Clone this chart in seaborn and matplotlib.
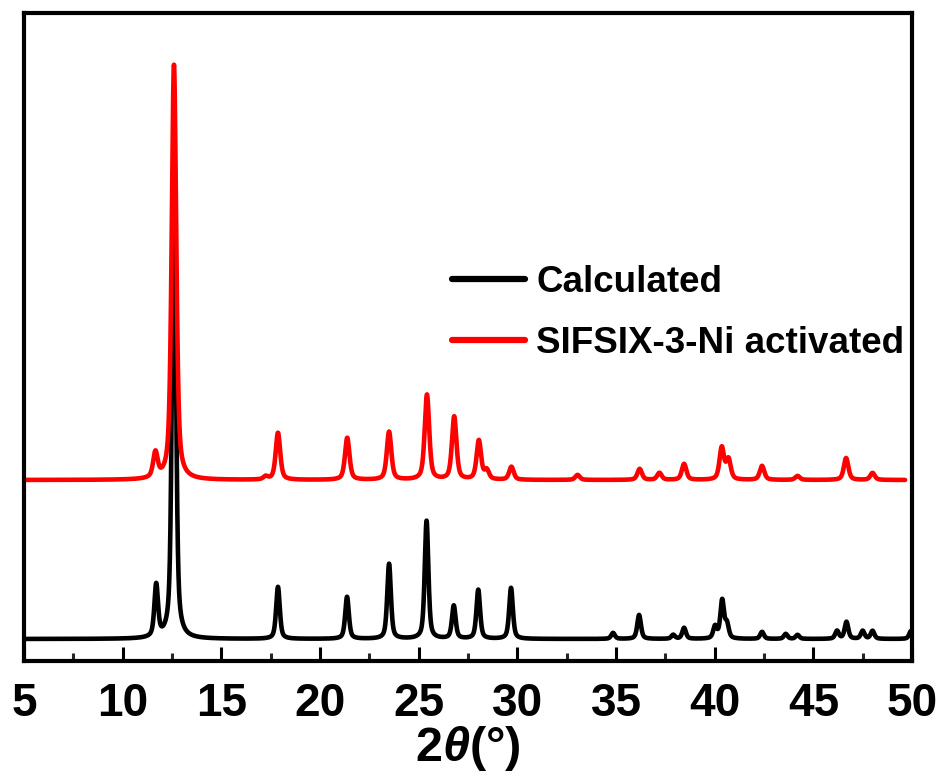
import numpy as np
import pandas as pd
import matplotlib
matplotlib.use("Agg")
import matplotlib.pyplot as plt
import seaborn as sns
from matplotlib.ticker import MultipleLocator

# ---- data (peak positions in 2theta, intensities in a.u.) ----
calc_pos = [11.70, 12.60, 17.87, 21.37, 23.50, 25.40, 26.78, 28.02, 29.68,
            34.85, 36.17, 37.90, 38.45, 40.02, 40.38, 40.62, 42.40, 43.60,
            44.20, 46.20, 46.68, 47.50, 48.00, 49.95]
calc_int = [52, 509, 52, 42, 75, 118, 33, 49, 51,
            6, 24, 4, 11, 12, 38, 14, 7, 5,
            4, 8, 17, 8, 8, 8]

meas_pos = [11.66, 12.60, 17.25, 17.87, 21.38, 23.50, 25.42, 26.80, 28.05,
            28.45, 29.70, 33.05, 36.20, 37.20, 38.45, 40.36, 40.70, 42.40,
            44.20, 46.66, 48.00]
meas_int = [25, 415, 3, 47, 42, 48, 85, 63, 39,
            9, 13, 5, 11, 7, 16, 32, 20, 14,
            4, 22, 7]

calc_offset = 22
meas_offset = 181
series_names = ["Calculated", "SIFSIX-3-Ni activated"]
colors = ["#000000", "#ff0000"]


def pattern(x, pos, inten, fwhm, eta=0.55):
    y = np.zeros_like(x)
    for p, h in zip(pos, inten):
        g = np.exp(-4 * np.log(2) * ((x - p) / fwhm) ** 2)
        l = 1.0 / (1.0 + 4 * ((x - p) / fwhm) ** 2)
        y += h * (eta * l + (1 - eta) * g)
    return y


x_calc = np.linspace(5.0, 50.0, 4501)
x_meas = np.linspace(5.05, 49.65, 4461)
y_calc = pattern(x_calc, calc_pos, calc_int, 0.22) + calc_offset
y_meas = pattern(x_meas, meas_pos, meas_int, 0.27) + meas_offset

df = pd.concat([
    pd.DataFrame({"x": x_calc, "y": y_calc, "s": series_names[0]}),
    pd.DataFrame({"x": x_meas, "y": y_meas, "s": series_names[1]}),
])

sns.set_theme(style="ticks")
plt.rcParams["font.family"] = ["Liberation Sans", "DejaVu Sans"]
plt.rcParams["font.weight"] = "bold"
plt.rcParams["text.color"] = "black"
plt.rcParams["axes.labelcolor"] = "black"
plt.rcParams["mathtext.fontset"] = "custom"
plt.rcParams["mathtext.it"] = "Liberation Sans:italic:bold"
plt.rcParams["mathtext.rm"] = "Liberation Sans:bold"

fig = plt.figure(figsize=(9.43, 7.76), dpi=100)
ax = fig.add_axes([24 / 943, 115 / 776, 888 / 943, 648 / 776])

sns.lineplot(data=df, x="x", y="y", hue="s", hue_order=series_names,
             palette=colors, estimator=None, sort=False, linewidth=3.3,
             ax=ax, legend=True)

ax.set_xlim(5, 50)
ax.set_ylim(0, 648)
ax.set_yticks([])
ax.set_ylabel("")
ax.xaxis.set_major_locator(MultipleLocator(5))
ax.xaxis.set_minor_locator(MultipleLocator(2.5))
ax.tick_params(axis="x", which="major", direction="in", length=10, width=2.2,
               pad=15, labelsize=33, colors="black")
ax.tick_params(axis="x", which="minor", direction="in", length=6, width=2.2)
for sp in ax.spines.values():
    sp.set_visible(True)
    sp.set_linewidth(3)
    sp.set_color("black")
for lab in ax.get_xticklabels():
    lab.set_fontweight("bold")
    lab.set_color("black")

ax.set_xlabel(r"$\mathit{2\theta}$(°)", fontsize=35, fontweight="bold",
              color="black")
ax.xaxis.set_label_coords(0.5, -0.097)

leg = ax.legend(loc="upper left", bbox_to_anchor=(0.461, 0.640), frameon=False,
                fontsize=26.5, handlelength=2.0, handletextpad=0.3,
                labelspacing=0.72, borderpad=0)
for t in leg.get_texts():
    t.set_fontweight("bold")
    t.set_color("black")
for h in leg.get_lines():
    h.set_linewidth(4.5)

fig.savefig("out.png", dpi=100, facecolor="white")
